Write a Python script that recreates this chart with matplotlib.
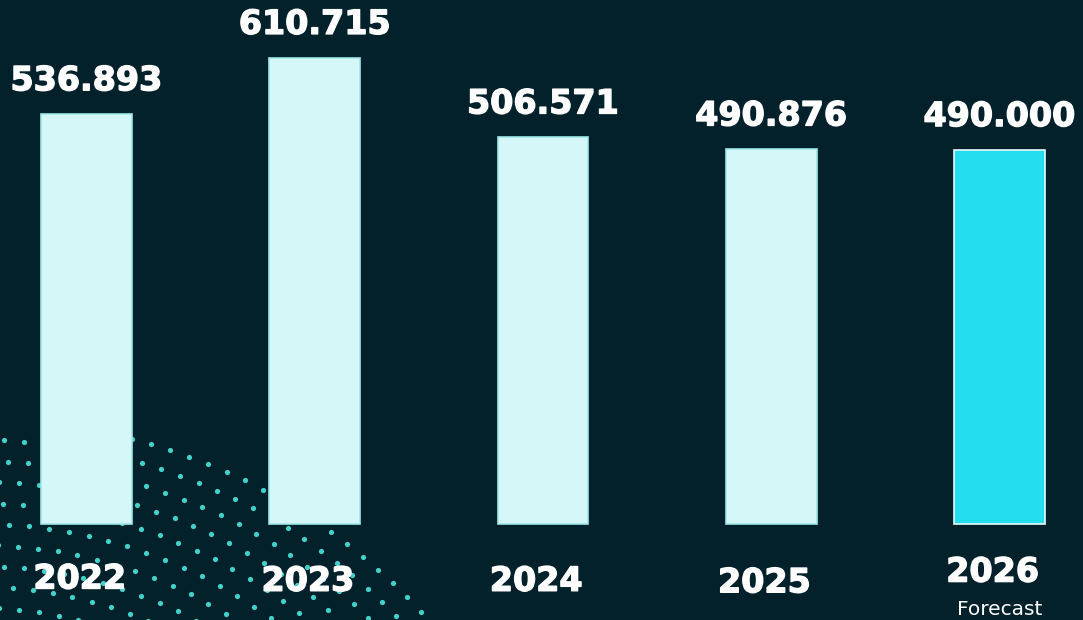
import numpy as np
import matplotlib
matplotlib.use("Agg")
import matplotlib.pyplot as plt
import matplotlib.patheffects as pe

years = ["2022", "2023", "2024", "2025", "2026"]
values = [536.893, 610.715, 506.571, 490.876, 490.000]
value_labels = ["536.893", "610.715", "506.571", "490.876", "490.000"]
sub_labels = ["", "", "", "", "Forecast"]

BG = "#02212a"
BAR = "#d6f7f7"
BAR_EDGE = "#9ee8ea"
FC = "#24def0"
FC_EDGE = "#e8fbfb"
DOT = "#44dcd4"

fig = plt.figure(figsize=(10.83, 6.20), dpi=100)
fig.patch.set_facecolor(BG)

# decorative dot pattern (background)
bg = fig.add_axes([0, 0, 1, 1], zorder=0)
bg.set_xlim(0, 1083)
bg.set_ylim(620, 0)
bg.axis("off")
cx, cy = -20, 1020
xs, ys = [], []
for r in np.arange(370, 612, 21):
    n = int(2 * np.pi * r / 20)
    ang = np.linspace(0, 2 * np.pi, n, endpoint=False) + (r % 42) / r
    px = cx + r * np.cos(ang)
    py = cy + r * np.sin(ang)
    m = (px >= -5) & (px <= 1090) & (py >= 425) & (py <= 625)
    xs.extend(px[m]); ys.extend(py[m])
bg.scatter(xs, ys, s=14, color=DOT, linewidths=0, alpha=0.95)

ax = fig.add_axes([0, 0, 1, 1], zorder=1)
ax.patch.set_alpha(0)
ax.axis("off")
ax.set_xlim(-0.379, 4.366)
ax.set_ylim(-125.7, 686.3)

x = np.arange(len(years))
colors = [BAR] * 4 + [FC]
edges = [BAR_EDGE] * 4 + [FC_EDGE]
ax.bar(x, values, width=0.398, color=colors, edgecolor=edges, linewidth=1.2)

font = ["DejaVu Sans"]
thick = [pe.withStroke(linewidth=1.0, foreground="white")]
for i, (v, lab) in enumerate(zip(values, value_labels)):
    ax.text(i, v + 22, lab, ha="center", va="bottom", fontsize=24,
            fontweight="bold", color="white", family=font, path_effects=thick)

year_y = [-72, -75, -75, -77, -63]
for i, (yl, sl) in enumerate(zip(years, sub_labels)):
    ax.text(i - 0.03, year_y[i], yl, ha="center", va="center", fontsize=24,
            fontweight="bold", color="white", family=font, path_effects=thick)
    if sl:
        ax.text(i, -112, sl, ha="center", va="center", fontsize=14.5,
                color="white", family=font)

fig.savefig("out.png", dpi=100, facecolor=BG)
